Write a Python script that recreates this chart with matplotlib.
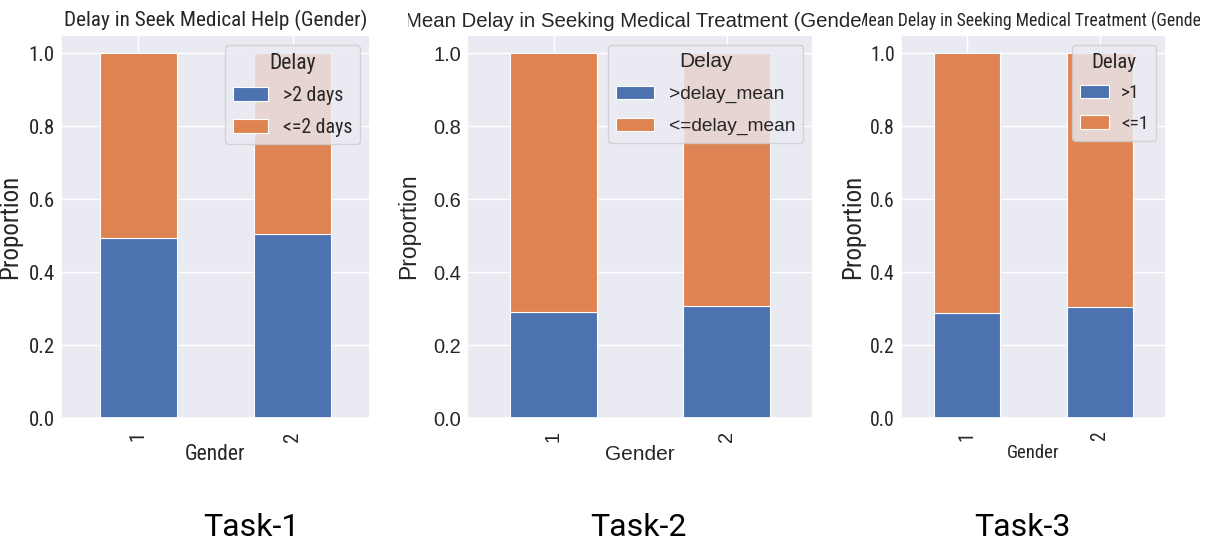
import matplotlib
matplotlib.use("Agg")
import matplotlib.pyplot as plt
import seaborn as sns
import numpy as np
from matplotlib.transforms import Bbox, TransformedBbox

sns.set_theme(style="darkgrid")

# ---- data ----
genders = ["1", "2"]
legend_title = "Delay"

t1_labels = [">2 days", "<=2 days"]
t1_over = [0.494, 0.505]
t1_under = [0.506, 0.495]

t2_labels = [">delay_mean", "<=delay_mean"]
t2_over = [0.290, 0.306]
t2_under = [0.710, 0.694]

t3_labels = [">1", "<=1"]
t3_over = [0.288, 0.304]
t3_under = [0.712, 0.696]

titles = ["Delay in Seek Medical Help (Gender)",
          "Mean Delay in Seeking Medical Treatment (Gender)",
          "Mean Delay in Seeking Medical Treatment (Gender)"]
task_names = ["Task-1", "Task-2", "Task-3"]

W, H = 1212, 545
fig = plt.figure(figsize=(W / 100, H / 100), dpi=100)

blue = "#4C72B0"
orange = "#DD8452"
txt = "#262626"

# per-panel layout / style
boxes = [(61, 370), (467, 813), (901, 1166)]
top_px, bot_px = 35, 418
clips = [(0, 405), (408, 862), (862, 1200)]
title_w = [304, 472, 357]
fams = [["Roboto Condensed"], ["Liberation Sans"], ["Roboto Condensed"]]
tick_fs = [15, 14.4, 14.2]
ylab_fs = [18, 16.5, 18]
xlab_fs = [15.5, 15, 13.5]
leg_fs = [14.3, 13.8, 14]
leg_title_fs = [15.5, 15, 15]
handle_len = [1.75, 2.0, 1.5]
text_pad = [0.75, 0.8, 0.6]
lab_space = [0.62, 0.75, 0.65]
ylab_x = [-0.125, -0.135, -0.135]

data = [(t1_over, t1_under, t1_labels),
        (t2_over, t2_under, t2_labels),
        (t3_over, t3_under, t3_labels)]

titles_art = []
for i, ((l, r), (over, under, labs)) in enumerate(zip(boxes, data)):
    ax = fig.add_axes([l / W, (H - bot_px) / H, (r - l) / W, (bot_px - top_px) / H])
    x = np.arange(len(genders))
    ax.bar(x, over, width=0.5, color=blue, edgecolor="white", linewidth=0.8, label=labs[0])
    ax.bar(x, under, width=0.5, bottom=over, color=orange, edgecolor="white",
           linewidth=0.8, label=labs[1])
    ax.set_xlim(-0.5, len(genders) - 0.5)
    ax.set_ylim(0, 1.05)
    ax.set_xticks(x)
    ax.set_xticklabels(genders, rotation=90, family=fams[i], fontsize=tick_fs[i], color=txt)
    ax.set_yticks([0, 0.2, 0.4, 0.6, 0.8, 1.0])
    ax.set_yticklabels(["0.0", "0.2", "0.4", "0.6", "0.8", "1.0"],
                       family=fams[i], fontsize=tick_fs[i], color=txt)
    ax.tick_params(axis="y", length=0, pad=4.5)
    ax.set_xlabel("Gender", family=fams[i], fontsize=xlab_fs[i], color=txt, labelpad=2)
    ax.set_ylabel("Proportion", family=fams[i], fontsize=ylab_fs[i], color=txt)
    ax.yaxis.set_label_coords(ylab_x[i], 0.5)
    t = ax.set_title(titles[i], family=fams[i], fontsize=15, color=txt, pad=6)
    c0, c1 = clips[i]
    t.set_clip_on(True)
    t.set_clip_box(TransformedBbox(Bbox.from_extents(c0 / W, 0, c1 / W, 1), fig.transFigure))
    titles_art.append(t)
    ax.legend(title=legend_title, loc="upper right",
              prop={"family": fams[i], "size": leg_fs[i]},
              title_fontproperties={"family": fams[i], "size": leg_title_fs[i]},
              handlelength=handle_len[i], labelspacing=lab_space[i], borderpad=0.4,
              handletextpad=text_pad[i], borderaxespad=0.5)

# fit title widths to the reference
fig.canvas.draw()
renderer = fig.canvas.get_renderer()
for t, tw in zip(titles_art, title_w):
    w = t.get_window_extent(renderer).width
    t.set_fontsize(t.get_fontsize() * tw / w)

# bottom task labels
for name, cx in zip(task_names, [251, 638, 1022]):
    fig.text(cx / W, (H - 527) / H, name, ha="center", va="center",
             family="Roboto", fontsize=23, color="black")

fig.savefig("out.png", dpi=100, facecolor="white")
